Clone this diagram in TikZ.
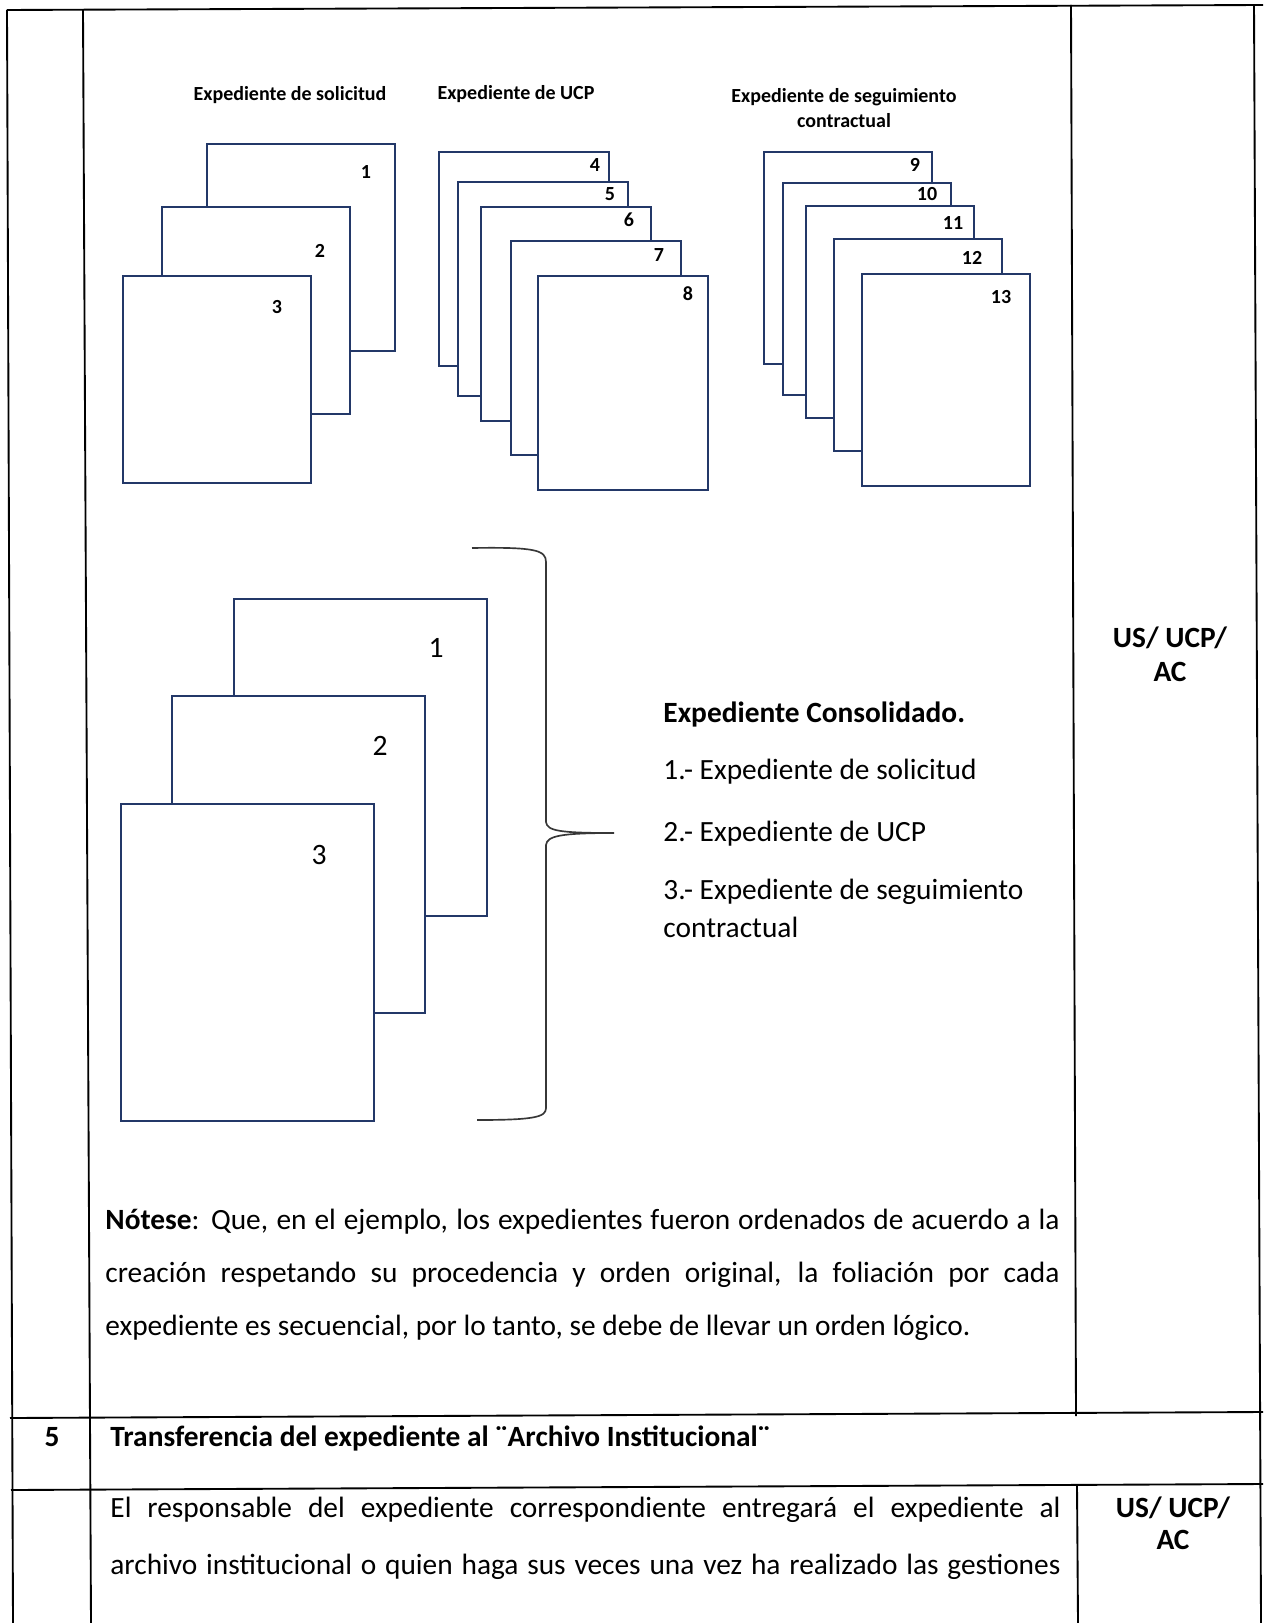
\documentclass[tikz,border=0pt]{standalone}
\usepackage{fontspec}
\setmainfont{Carlito}
\definecolor{azul}{RGB}{35,56,104}
\definecolor{gris}{RGB}{55,55,55}
\newlength{\pxu}
\setlength{\pxu}{0.48pt}
\begin{document}
\begin{tikzpicture}[x=0.48pt, y=-0.48pt,
    hoja/.style={draw=azul, fill=white, line width=1pt, anchor=north west, inner sep=0pt},
    hojaA/.style={hoja, minimum width=188\pxu, minimum height=207\pxu},
    hojaB/.style={hoja, minimum width=170\pxu, minimum height=214\pxu},
    hojaC/.style={hoja, minimum width=168\pxu, minimum height=212\pxu},
    hojaG/.style={hoja, minimum width=253\pxu, minimum height=317\pxu},
    numchico/.style={inner sep=0pt, font=\fontsize{9.6}{11}\selectfont\bfseries},
    numgrande/.style={inner sep=0pt, font=\fontsize{14.2}{16}\selectfont},
    titulo/.style={inner sep=0pt, anchor=base, font=\fontsize{9.6}{11}\selectfont\bfseries},
    texto/.style={inner sep=0pt, anchor=base west, font=\fontsize{14.1}{16}\selectfont},
    resp/.style={inner sep=0pt, anchor=base, font=\fontsize{14.1}{16}\selectfont\bfseries},
    tabla/.style={line width=0.9pt}]
  \useasboundingbox[fill=white] (0,0) rectangle (1263,1623);
  \draw[tabla] (7,10) -- (1263,5);
  \draw[tabla] (7,10) -- (13,1623);
  \draw[tabla] (83,10) -- (91,1623);
  \draw[tabla] (1071,5) -- (1076,1416);
  \draw[tabla] (1077,1486) -- (1078,1623);
  \draw[tabla] (1254,5) -- (1261,1623);
  \draw[tabla] (10,1418) -- (1263,1412);
  \draw[tabla] (11,1490) -- (1263,1484);

  \node[titulo] (tsol) at (290,101) {Expediente de solicitud};
  \node[titulo] (tucp) at (516,100) {Expediente de UCP};
  \node[titulo] (tseg1) at (844,103) {Expediente de seguimiento};
  \node[titulo] (tseg2) at (844,128) {contractual};

  \node[hojaA] (hoja1) at (206,143) {};
  \node[numchico] (num1) at (366,172) {1};
  \node[hojaA] (hoja2) at (161,206) {};
  \node[numchico] (num2) at (320,251) {2};
  \node[hojaA] (hoja3) at (122,275) {};
  \node[numchico] (num3) at (277,307) {3};

  \node[hojaB] (hoja4) at (438,151) {};
  \node[numchico] (num4) at (595,165) {4};
  \node[hojaB] (hoja5) at (457,181) {};
  \node[numchico] (num5) at (610,194) {5};
  \node[hojaB] (hoja6) at (480,206) {};
  \node[numchico] (num6) at (629,220) {6};
  \node[hojaB] (hoja7) at (510,240) {};
  \node[numchico] (num7) at (659,255) {7};
  \node[hojaB] (hoja8) at (537,275) {};
  \node[numchico] (num8) at (688,294) {8};

  \node[hojaC] (hoja9) at (763,151) {};
  \node[numchico] (num9) at (915,165) {9};
  \node[hojaC] (hoja10) at (782,182) {};
  \node[numchico] (num10) at (927,194) {10};
  \node[hojaC] (hoja11) at (805,205) {};
  \node[numchico] (num11) at (953,223) {11};
  \node[hojaC] (hoja12) at (833,238) {};
  \node[numchico] (num12) at (972,258) {12};
  \node[hojaC] (hoja13) at (861,273) {};
  \node[numchico] (num13) at (1001,297) {13};

  \node[hojaG] (cons1) at (233,598) {};
  \node[numgrande] (numc1) at (436,648) {1};
  \node[hojaG] (cons2) at (171,695) {};
  \node[numgrande] (numc2) at (380,746) {2};
  \node[hojaG] (cons3) at (120,803) {};
  \node[numgrande] (numc3) at (319,855) {3};

  \coordinate (llaveA) at (472,548);
  \coordinate (llaveB) at (546,562);
  \coordinate (llaveC) at (546,822);
  \coordinate (punta) at (614,833);
  \coordinate (llaveD) at (546,845);
  \coordinate (llaveE) at (546,1108);
  \coordinate (llaveF) at (477,1120);
  \draw[gris, line width=0.8pt] (llaveA) .. controls (535,547) and (546,550) .. (llaveB) -- (llaveC)
    .. controls (547,831) and (560,833) .. (punta) .. controls (560,833) and (547,836) .. (llaveD)
    -- (llaveE) .. controls (546,1117) and (535,1120) .. (llaveF);

  \node[texto] (lista0) at (663,722) {\textbf{Expediente Consolidado.}};
  \node[texto] (lista1) at (663,779) {1.- Expediente de solicitud};
  \node[texto] (lista2) at (663,841) {2.- Expediente de UCP};
  \node[texto] (lista3) at (663,899) {3.- Expediente de seguimiento};
  \node[texto] (lista4) at (663,937) {contractual};

  \node[resp] (resp1) at (1170,647) {US/ UCP/};
  \node[resp] (resp2) at (1170,681) {AC};

  \node[texto] (nota1) at (105,1229) {\makebox[458pt][s]{\textbf{Nótese}: Que, en el ejemplo, los expedientes fueron ordenados de acuerdo a la}};
  \node[texto] (nota2) at (105,1282) {\makebox[458pt][s]{creación respetando su procedencia y orden original, la foliación por cada}};
  \node[texto] (nota3) at (105,1335) {expediente es secuencial, por lo tanto, se debe de llevar un orden lógico.};

  \node[resp] (paso) at (52,1446) {5};
  \node[texto, font=\fontsize{14.1}{16}\selectfont\bfseries] (paso5) at (110,1446) {Transferencia del expediente al ¨Archivo Institucional¨};

  \node[texto] (fila1) at (110,1517) {\makebox[456pt][s]{El responsable del expediente correspondiente entregará el expediente al}};
  \node[texto] (fila2) at (110,1574) {\makebox[456pt][s]{archivo institucional o quien haga sus veces una vez ha realizado las gestiones}};
  \node[resp] (resp3) at (1173,1517) {US/ UCP/};
  \node[resp] (resp4) at (1173,1549) {AC};
\end{tikzpicture}
\end{document}
